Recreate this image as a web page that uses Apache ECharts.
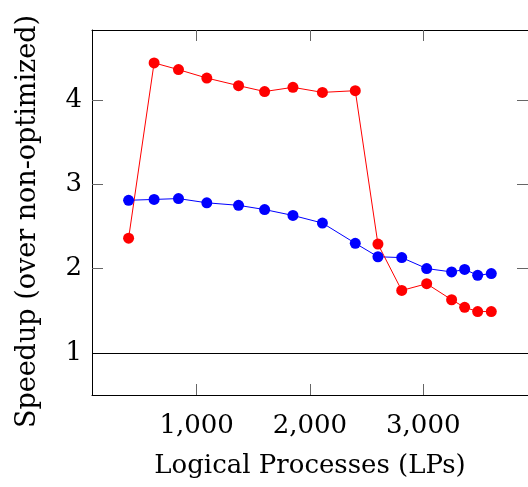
<!DOCTYPE html>
<html>
<head>
<meta charset="utf-8">
<script src="https://cdn.jsdelivr.net/npm/echarts@6/dist/echarts.min.js"></script>
<style>html,body{margin:0;padding:0;background:#fff;}#c{width:528px;height:487px;}</style>
</head>
<body>
<div id="c"></div>
<script>
const lps = [400, 625, 840, 1090, 1370, 1600, 1850, 2110, 2400, 2600, 2810, 3030, 3250, 3365, 3480, 3600];
const blueSpeedup = [2.81, 2.82, 2.83, 2.78, 2.75, 2.70, 2.63, 2.54, 2.30, 2.14, 2.13, 2.00, 1.96, 1.99, 1.92, 1.94];
const redSpeedup = [2.36, 4.44, 4.36, 4.26, 4.17, 4.10, 4.15, 4.09, 4.11, 2.29, 1.74, 1.82, 1.63, 1.54, 1.49, 1.49];
const xTicks = [1000, 2000, 3000];
const yTicks = [1, 2, 3, 4];
const baseline = 1;

const FONT = 'DejaVu Serif';
const FS = 26;
const xMin = 77, xMax = 3924, yMin = 0.5, yMax = 4.83;
const tickStyle = {inside: true, length: 11, lineStyle: {color: '#666', width: 1}};
const chart = echarts.init(document.getElementById('c'), null, {renderer: 'canvas'});
const fmt = v => v.toLocaleString('en-US');
chart.setOption({
  animation: false,
  backgroundColor: '#fff',
  grid: {left: 92, right: -7, top: 30, bottom: 92},
  xAxis: [{
    type: 'value', min: xMin, max: xMax, position: 'bottom',
    axisLine: {show: true, lineStyle: {color: '#000', width: 1}},
    axisTick: Object.assign({customValues: xTicks}, tickStyle),
    axisLabel: {customValues: xTicks, formatter: fmt, fontFamily: FONT, fontSize: FS, color: '#000', margin: 18},
    splitLine: {show: false},
    name: 'Logical Processes (LPs)', nameLocation: 'middle', nameGap: 58,
    nameTextStyle: {fontFamily: FONT, fontSize: FS, color: '#000'}
  }, {
    type: 'value', min: xMin, max: xMax, position: 'top',
    axisLine: {show: true, lineStyle: {color: '#000', width: 1}},
    axisTick: Object.assign({customValues: xTicks}, tickStyle),
    axisLabel: {show: false}, splitLine: {show: false}
  }],
  yAxis: [{
    type: 'value', min: yMin, max: yMax, position: 'left',
    axisLine: {show: true, lineStyle: {color: '#000', width: 1}},
    axisTick: Object.assign({customValues: yTicks}, tickStyle),
    axisLabel: {customValues: yTicks, fontFamily: FONT, fontSize: FS, color: '#000', margin: 10},
    splitLine: {show: false},
    name: 'Speedup (over non-optimized)', nameLocation: 'middle', nameGap: 51,
    nameTextStyle: {fontFamily: FONT, fontSize: 27, color: '#000', padding: [0, 18, 0, 0]}
  }, {
    type: 'value', min: yMin, max: yMax, position: 'right',
    axisLine: {show: false},
    axisTick: Object.assign({customValues: yTicks}, tickStyle),
    axisLabel: {show: false}, splitLine: {show: false}
  }],
  series: [{
    type: 'line', xAxisIndex: 0, yAxisIndex: 0,
    data: lps.map((x, i) => [x, blueSpeedup[i]]),
    symbol: 'circle', symbolSize: 11,
    lineStyle: {color: '#0000ff', width: 1},
    itemStyle: {color: '#0000ff'},
    markLine: {
      silent: true, symbol: 'none', label: {show: false},
      lineStyle: {color: '#000', width: 1, type: 'solid'},
      data: [{yAxis: baseline}]
    }
  }, {
    type: 'line', xAxisIndex: 0, yAxisIndex: 0,
    data: lps.map((x, i) => [x, redSpeedup[i]]),
    symbol: 'circle', symbolSize: 11,
    lineStyle: {color: '#ff0000', width: 1},
    itemStyle: {color: '#ff0000'}
  }]
});
</script>
</body>
</html>
